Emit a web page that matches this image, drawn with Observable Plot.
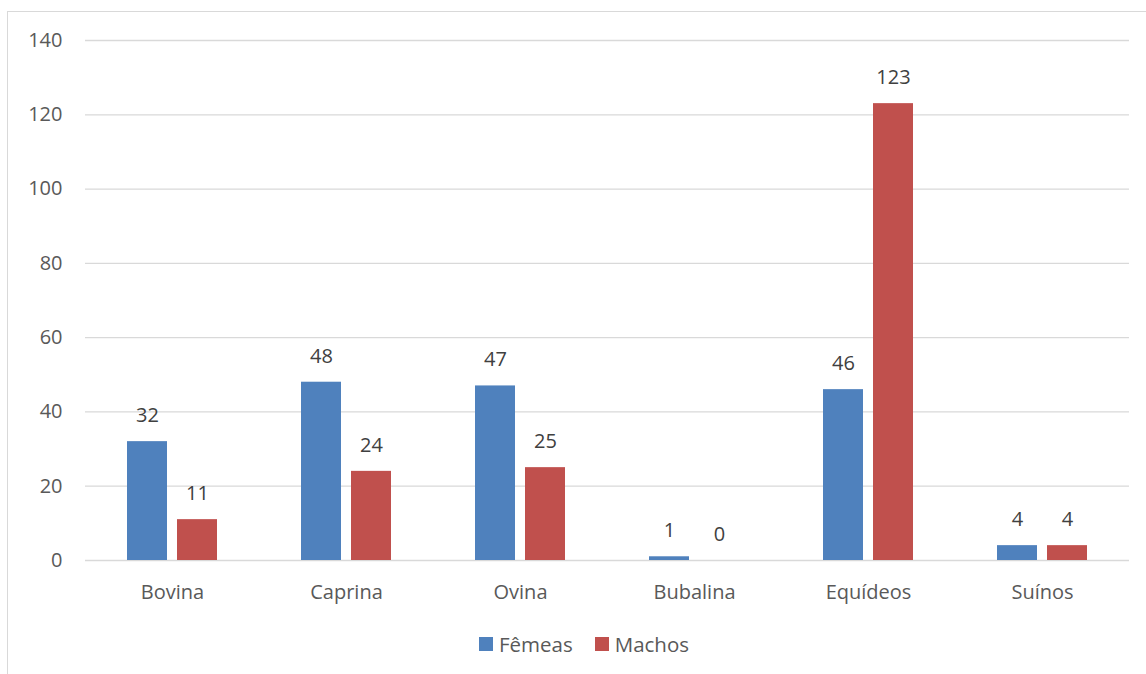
<!DOCTYPE html>
<html>
<head>
<meta charset="utf-8">
<script src="https://cdn.jsdelivr.net/npm/d3@7"></script>
<script src="https://cdn.jsdelivr.net/npm/@observablehq/plot@0.6"></script>
<style>
  body { margin: 0; background: #fff; }
  #wrap { position: relative; width: 1146px; height: 674px; overflow: hidden; font-family: "Open Sans", sans-serif; }
  #frame { position: absolute; left: 7px; top: 11px; width: 1160px; height: 700px; border: 1.3px solid #d9d9d9; box-sizing: border-box; }
  #chart { position: absolute; left: 0; top: 0; }
  #legend { position: absolute; top: 630px; left: 11px; width: 1146px; display: flex; justify-content: center; gap: 22px; font-size: 20.5px; color: #595959; }
  .item { display: flex; align-items: center; gap: 6px; }
  .sw { width: 14px; height: 14px; display: inline-block; }
</style>
</head>
<body>
<div id="wrap">
  <div id="frame"></div>
  <div id="chart"></div>
  <div id="legend"></div>
</div>
<script>
const categories = ["Bovina", "Caprina", "Ovina", "Bubalina", "Equídeos", "Suínos"];
const series = ["Fêmeas", "Machos"];
const femeas = [32, 48, 47, 1, 46, 4];
const machos = [11, 24, 25, 0, 123, 4];
const yTicks = [0, 20, 40, 60, 80, 100, 120, 140];
const colors = ["#4F81BD", "#C0504D"];

const data = [];
categories.forEach((c, i) => {
  data.push({cat: c, sex: series[0], value: femeas[i]});
  data.push({cat: c, sex: series[1], value: machos[i]});
});

const chart = Plot.plot({
  width: 1146,
  height: 620,
  marginLeft: 83,
  marginRight: 16,
  marginTop: 40,
  marginBottom: 60,
  style: {fontSize: "20px", fontFamily: "Open Sans, sans-serif", color: "#595959", background: "transparent"},
  fx: {domain: categories, padding: 0, axis: "bottom", tickSize: 0, tickPadding: 24, label: null},
  x: {domain: series, paddingInner: 0.21, paddingOuter: 0.82, axis: null},
  y: {domain: [0, 140], ticks: yTicks, tickSize: 0, tickPadding: 23, label: null, tickFormat: d => String(d)},
  color: {domain: series, range: colors},
  marks: [
    Plot.ruleY(yTicks, {stroke: "#d9d9d9", strokeWidth: 1.3}),
    Plot.barY(data, {fx: "cat", x: "sex", y: "value", fill: "sex"}),
    Plot.text(data, {fx: "cat", x: "sex", y: "value", text: d => String(d.value), dy: -26, fill: "#404040", fontSize: 20})
  ]
});
document.getElementById("chart").appendChild(chart);

const legend = document.getElementById("legend");
series.forEach((s, i) => {
  const it = document.createElement("div");
  it.className = "item";
  const sw = document.createElement("span");
  sw.className = "sw";
  sw.style.background = colors[i];
  const t = document.createElement("span");
  t.textContent = s;
  it.appendChild(sw);
  it.appendChild(t);
  legend.appendChild(it);
});
</script>
</body>
</html>
